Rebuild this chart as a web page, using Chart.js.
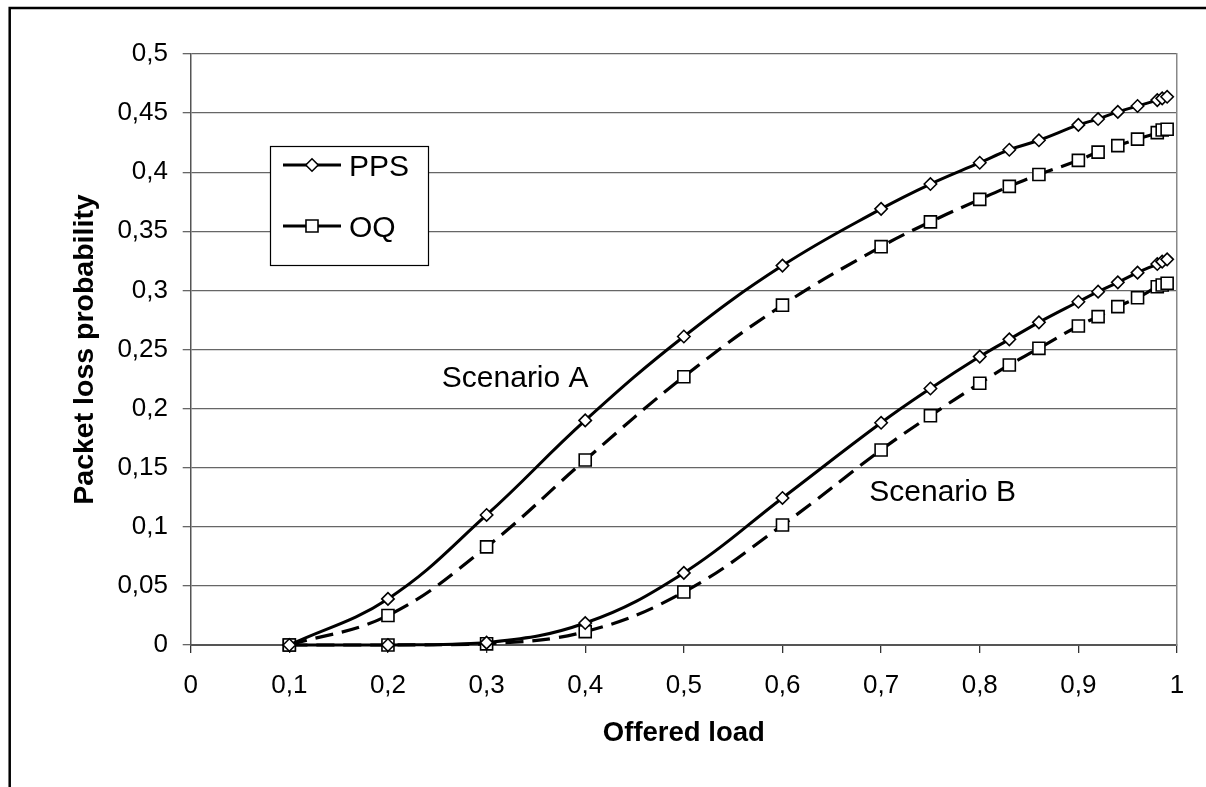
<!DOCTYPE html>
<html><head><meta charset="utf-8">
<style>html,body{margin:0;padding:0;background:#fff;} #c{display:block;}</style>
<script src="https://cdn.jsdelivr.net/npm/chart.js"></script>
</head><body>
<canvas id="c" width="1206" height="787" style="width:1206px;height:787px"></canvas>
<script>
// ---- data ----
const loads = [0.1, 0.2, 0.3, 0.4, 0.5, 0.6, 0.7, 0.75, 0.8, 0.83, 0.86, 0.9, 0.92, 0.94, 0.96, 0.98, 0.985, 0.99];
const ppsA  = [0, 0.039, 0.110, 0.190, 0.261, 0.321, 0.369, 0.390, 0.408, 0.419, 0.427, 0.440, 0.445, 0.451, 0.456, 0.461, 0.4625, 0.4638];
const oqA   = [0, 0.025, 0.083, 0.1565, 0.227, 0.2875, 0.337, 0.358, 0.377, 0.388, 0.398, 0.410, 0.417, 0.4225, 0.428, 0.4335, 0.4357, 0.4363];
const ppsB  = [0, 0, 0.002, 0.0186, 0.061, 0.1244, 0.188, 0.217, 0.244, 0.2586, 0.273, 0.2904, 0.2989, 0.3068, 0.315, 0.3223, 0.3243, 0.3263];
const oqB   = [0, 0, 0.001, 0.0113, 0.0448, 0.1015, 0.165, 0.194, 0.2214, 0.2369, 0.251, 0.2699, 0.2778, 0.2863, 0.2938, 0.3031, 0.3046, 0.306];
const xTickLabels = ['0', '0,1', '0,2', '0,3', '0,4', '0,5', '0,6', '0,7', '0,8', '0,9', '1'];
const yTickLabels = ['0', '0,05', '0,1', '0,15', '0,2', '0,25', '0,3', '0,35', '0,4', '0,45', '0,5'];
const seriesNames = ['PPS', 'OQ'];
const scenarioNames = ['Scenario A', 'Scenario B'];
const xTitle = 'Offered load';
const yTitle = 'Packet loss probability';

// ---- layout / styling ----
const FONT = "'Liberation Sans', Arial, sans-serif";
const scenarioAnchor = [[0.2546, 0.2185], [0.688, 0.1222]];
const toPts = arr => arr.map((v, i) => ({ x: loads[i], y: v }));

const ppsStyle = { borderColor: '#000', borderWidth: 3, pointStyle: 'rectRot', pointRadius: 6.2,
  pointBorderWidth: 1.6, pointBorderColor: '#000', pointBackgroundColor: '#fff' };
const oqStyle = { borderColor: '#000', borderWidth: 3.2, borderDash: [18, 9], pointStyle: 'rect', pointRadius: 8.5,
  pointBorderWidth: 1.6, pointBorderColor: '#000', pointBackgroundColor: '#fff' };

const common = { fill: false, tension: 0.4, clip: false, pointHoverRadius: 6 };

const datasets = [
  Object.assign({ label: seriesNames[0] + ' A', data: toPts(ppsA) }, common, ppsStyle),
  Object.assign({ label: seriesNames[1] + ' A', data: toPts(oqA) }, common, oqStyle),
  Object.assign({ label: seriesNames[0] + ' B', data: toPts(ppsB) }, common, ppsStyle),
  Object.assign({ label: seriesNames[1] + ' B', data: toPts(oqB) }, common, oqStyle),
];

function drawMarker(ctx, style, x, y, r) {
  ctx.save();
  ctx.setLineDash([]);
  ctx.fillStyle = '#fff';
  ctx.strokeStyle = '#000';
  ctx.lineWidth = 1.6;
  ctx.beginPath();
  if (style === 'rectRot') {
    ctx.moveTo(x - r, y); ctx.lineTo(x, y - r); ctx.lineTo(x + r, y); ctx.lineTo(x, y + r); ctx.closePath();
  } else {
    const s = r * Math.SQRT1_2;
    ctx.rect(x - s, y - s, 2 * s, 2 * s);
  }
  ctx.fill(); ctx.stroke();
  ctx.restore();
}

const decorPlugin = {
  id: 'decor',
  afterDraw(chart) {
    const ctx = chart.ctx;
    const xs = chart.scales.x, ys = chart.scales.y;
    ctx.save();
    // outer frame (left and top edges visible)
    ctx.strokeStyle = '#000';
    ctx.lineWidth = 2.5;
    ctx.beginPath();
    ctx.moveTo(9.7, chart.height + 5);
    ctx.lineTo(9.7, 7.9);
    ctx.lineTo(chart.width + 5, 7.9);
    ctx.stroke();

    // scenario labels
    ctx.fillStyle = '#000';
    ctx.font = '30px ' + FONT;
    ctx.textAlign = 'left';
    ctx.textBaseline = 'alphabetic';
    scenarioNames.forEach((t, i) => {
      ctx.fillText(t, xs.getPixelForValue(scenarioAnchor[i][0]), ys.getPixelForValue(scenarioAnchor[i][1]));
    });

    // legend box
    ctx.fillStyle = '#fff';
    ctx.fillRect(270.5, 146.5, 158, 119);
    ctx.strokeStyle = '#000';
    ctx.lineWidth = 1.2;
    ctx.strokeRect(270.5, 146.5, 158, 119);
    const rows = [
      { name: seriesNames[0], y: 165, st: ppsStyle },
      { name: seriesNames[1], y: 226, st: oqStyle },
    ];
    rows.forEach(r => {
      ctx.strokeStyle = '#000';
      ctx.lineWidth = r.st.borderWidth;
      ctx.setLineDash([]);
      ctx.beginPath();
      ctx.moveTo(283, r.y); ctx.lineTo(341, r.y);
      ctx.stroke();
      drawMarker(ctx, r.st.pointStyle, 312, r.y, r.st.pointRadius);
      ctx.fillStyle = '#000';
      ctx.font = '30px ' + FONT;
      ctx.textAlign = 'left';
      ctx.textBaseline = 'alphabetic';
      ctx.fillText(r.name, 349, r.y + 11);
    });
    ctx.restore();
  }
};

new Chart(document.getElementById('c'), {
  type: 'line',
  data: { datasets },
  options: {
    responsive: false,
    animation: false,
    devicePixelRatio: 1,
    layout: { padding: { top: 54, right: 29, bottom: 0, left: 0 } },
    plugins: { legend: { display: false }, tooltip: { enabled: false } },
    scales: {
      x: {
        type: 'linear', min: 0, max: 1,
        afterFit(s) { s.height = 142; },
        ticks: { stepSize: 0.1, color: '#000', padding: 17, maxRotation: 0, autoSkip: false,
          font: { family: FONT, size: 26 },
          callback: (v, i) => xTickLabels[i] },
        grid: { drawOnChartArea: false, drawTicks: true, tickLength: 8, color: '#333', lineWidth: 1.3 },
        border: { display: true, color: '#555', width: 2 },
        title: { display: true, text: xTitle, color: '#000',
          font: { family: FONT, size: 27.5, weight: 'bold' }, padding: { top: 0, bottom: 37.5 } }
      },
      y: {
        type: 'linear', min: 0, max: 0.5,
        afterFit(s) { s.width = 190.7; },
        ticks: { stepSize: 0.05, color: '#000', padding: 14.7,
          font: { family: FONT, size: 26 },
          callback: (v, i) => yTickLabels[i] },
        grid: { drawOnChartArea: true, drawTicks: true, tickLength: 8, color: '#666', lineWidth: 1.3 },
        border: { display: true, color: '#555', width: 1.5 },
        title: { display: true, text: yTitle, color: '#000',
          font: { family: FONT, size: 28.5, weight: 'bold' }, padding: { top: 68.5, bottom: 0 } }
      },
      y2: {
        type: 'linear', position: 'right', min: 0, max: 0.5,
        afterFit(s) { s.width = 0; },
        ticks: { display: false },
        grid: { drawOnChartArea: false, drawTicks: false },
        border: { display: true, color: '#888', width: 1.5 }
      }
    }
  },
  plugins: [decorPlugin]
});
</script>
</body></html>
